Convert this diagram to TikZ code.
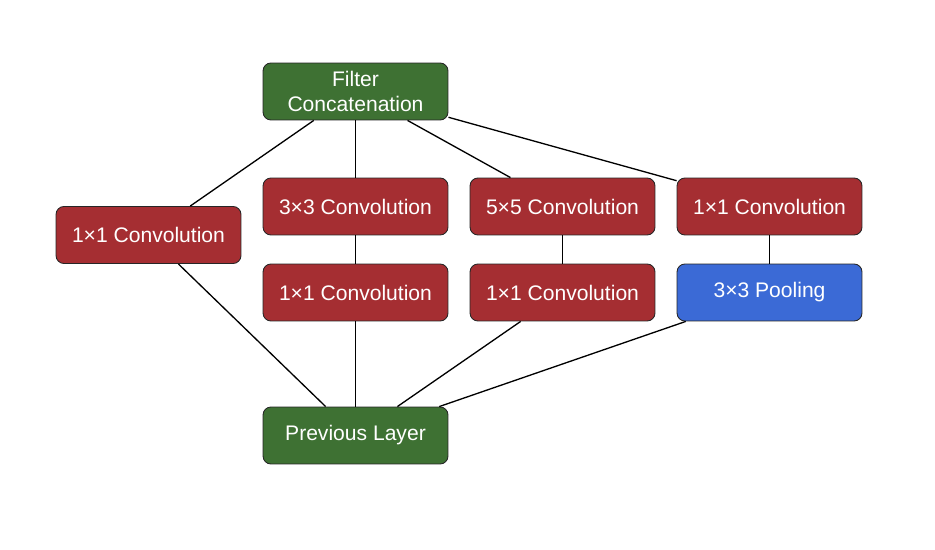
\documentclass[tikz,border=0pt]{standalone}
\usepackage{fontspec}
\setmainfont{Liberation Sans}
\usepackage{tikz}
\definecolor{layergreen}{RGB}{62,113,51}
\definecolor{convred}{RGB}{165,46,50}
\definecolor{poolblue}{RGB}{59,106,214}
\tikzset{
  block/.style={draw=black!85, line width=0.5pt, rounded corners=4.5pt, text=white,
    minimum width=3.7cm, minimum height=1.14cm, inner sep=2pt, align=center,
    font=\fontsize{12}{14}\selectfont},
  link/.style={line width=0.75pt, black}
}
\begin{document}
\begin{tikzpicture}[x=0.02cm, y=-0.02cm]
\useasboundingbox (0,0) rectangle (935,550);
%layers
\node[block, fill=layergreen] (concat) at (355.5,91.5) {Filter\\Concatenation};
\node[block, fill=layergreen] (prev) at (355.5,435.5) {Previous Layer};
\node[block, fill=convred] (convA) at (148.5,235) {1×1 Convolution};
\node[block, fill=convred] (conv3) at (355.5,206.5) {3×3 Convolution};
\node[block, fill=convred] (conv5) at (562.5,206.5) {5×5 Convolution};
\node[block, fill=convred] (convD) at (769.5,206.5) {1×1 Convolution};
\node[block, fill=convred] (convB) at (355.5,292.5) {1×1 Convolution};
\node[block, fill=convred] (convC) at (562.5,292.5) {1×1 Convolution};
\node[block, fill=poolblue] (pool) at (769.5,292.5) {3×3 Pooling};
%links
\draw[link] (concat) -- (convA);
\draw[link] (concat) -- (conv3);
\draw[link] (concat) -- (conv5);
\draw[link] (concat) -- (convD);
\draw[link] (conv3) -- (convB);
\draw[link] (conv5) -- (convC);
\draw[link] (convD) -- (pool);
\draw[link] (convA) -- (prev);
\draw[link] (convB) -- (prev);
\draw[link] (convC) -- (prev);
\draw[link] (pool) -- (prev);
\end{tikzpicture}
\end{document}
